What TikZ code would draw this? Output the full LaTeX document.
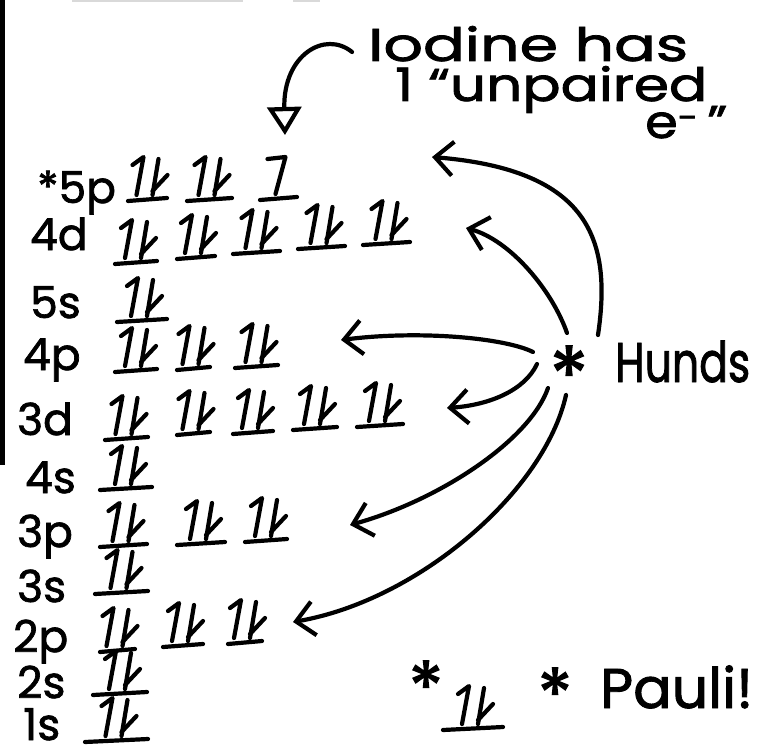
\documentclass[tikz,border=0pt]{standalone}
\usepackage{fontspec}
\setmainfont{Poppins}[FakeBold=1.6]
\usepackage{graphicx}
\usetikzlibrary{arrows.meta}
\newcommand\fitw[2]{\resizebox{#1}{\height}{#2}}
\tikzset{
  ink/.style={line width=4.2pt, line cap=round, line join=round, black},
  hund/.style={ink, -{Straight Barb[length=18pt,width=34pt]}},
  lbl/.style={anchor=base west, inner sep=0pt, font=\fontsize{44}{44}\selectfont},
  note/.style={anchor=base west, inner sep=0pt, font=\fontsize{46}{46}\selectfont},
  big/.style={anchor=base west, inner sep=0pt, font=\fontsize{56}{56}\selectfont},
  astr/.style={anchor=center, inner sep=0pt, font=\fontsize{80}{80}\selectfont},
  pics/pair/.style={code={
    \draw[ink] (-#1/2,2) -- (#1/2,-1);
    \draw[ink] (-15,-34) -- (-4,-42) -- (-11,-4);
    \draw[ink] (11,-40) -- (5,-4);
    \draw[ink] (5,-8) -- (20,-24);
  }},
  pics/single/.style={code={
    \draw[ink] (-#1/2,2) -- (#1/2,-1);
    \draw[ink] (-11,-39) -- (7,-41) -- (-3,-4);
  }},
}
\begin{document}
\begin{tikzpicture}[x=1pt,y=-1pt]
\useasboundingbox (0,0) rectangle (767,751);
\fill[black] (0,0) rectangle (5,465);
\draw[gray!30, line width=1.2pt] (72,1) -- (243,1) (293,1) -- (320,1);

% level labels
\node[lbl] (l5p) at (37,203) {*5p};
\node[lbl] (l4d) at (30,250) {4d};
\node[lbl] (l5s) at (30,318) {5s};
\node[lbl] (l4p) at (23,370) {4p};
\node[lbl] (l3d) at (17,435) {3d};
\node[lbl] (l4s) at (25,493) {4s};
\node[lbl] (l3p) at (17,547) {3p};
\node[lbl] (l3s) at (17,602) {3s};
\node[lbl] (l2p) at (13,652) {2p};
\node[lbl] (l2s) at (17,698) {2s};
\node[lbl] (l1s) at (23,740) {1s};

% orbitals
\pic at (147.5,199) {pair=39};
\pic at (209.5,199) {pair=45};
\pic at (278.5,198) {single=37};
\pic at (136,262) {pair=42};
\pic at (196,257) {pair=38};
\pic at (256.5,252) {pair=47};
\pic at (321.5,247) {pair=47};
\pic at (386.5,243) {pair=47};
\pic at (142,320) {pair=50};
\pic at (136,370) {pair=42};
\pic at (193.5,368) {pair=33};
\pic at (256.5,366) {pair=43};
\pic at (126.5,438) {pair=43};
\pic at (193.5,433) {pair=33};
\pic at (253,432) {pair=40};
\pic at (315,428) {pair=44};
\pic at (380,425) {pair=46};
\pic at (126,488) {pair=52};
\pic at (123.5,545) {pair=47};
\pic at (201,543) {pair=48};
\pic at (266,540) {pair=42};
\pic at (121.5,592) {pair=53};
\pic at (117.5,650) {pair=35};
\pic at (183,645) {pair=40};
\pic at (245,642) {pair=34};
\pic at (120,693) {pair=54};
\pic at (116.5,740) {pair=63};

% Iodine note
\node[note] (iod1) at (368,61) {\fitw{320pt}{Iodine has}};
\node[note] (iod2) at (395,101) {\fitw{312pt}{1 ``unpaired}};
\node[note] (iod3) at (645,138) {\fitw{82pt}{e\textsuperscript{-}\,''}};
\coordinate (iodS) at (352,52);
\coordinate (iodT) at (285,135);
\draw[ink, -{Triangle[open,length=28pt,width=34pt]}] (iodS) .. controls (325,30) and (283,55) .. (iodT);

% Hunds
\node[astr] (hstar) at (569,375) {*};
\node[big] (hunds) at (615,382) {\fitw{135pt}{Hunds}};
\coordinate (h1) at (598,335);
\coordinate (h2) at (567,333);
\coordinate (h3) at (533,352);
\coordinate (h4) at (537,364);
\coordinate (h5) at (548,388);
\coordinate (h6) at (566,395);
\coordinate (t5p) at (432,157);
\coordinate (t4d) at (466,228);
\coordinate (t4p) at (341,340);
\coordinate (t3d) at (447,408);
\coordinate (t3p) at (350,525);
\coordinate (t2p) at (293,622);
\draw[hund] (h1) .. controls (612,240) and (590,170) .. (t5p);
\draw[hund] (h2) .. controls (552,290) and (510,240) .. (t4d);
\draw[hund] (h3) .. controls (505,338) and (420,330) .. (t4p);
\draw[hund] (h4) .. controls (525,390) and (490,405) .. (t3d);
\draw[hund] (h5) .. controls (530,440) and (440,500) .. (t3p);
\draw[hund] (h6) .. controls (545,490) and (420,600) .. (t2p);

% Pauli
\node[astr, font=\fontsize{72}{72}\selectfont] (pstar1) at (426,687) {*};
\pic at (473,728) {pair=60};
\node[astr, font=\fontsize{72}{72}\selectfont] (pstar2) at (555,694) {*};
\node[big] (pauli) at (600,708) {\fitw{153pt}{Pauli!}};
\end{tikzpicture}
\end{document}
